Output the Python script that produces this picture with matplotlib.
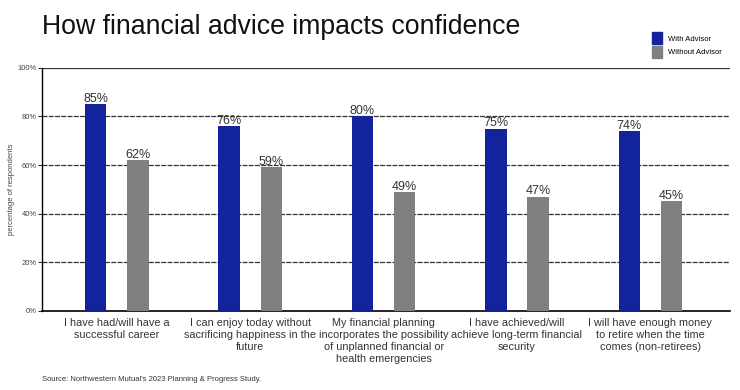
import numpy as np
import matplotlib.pyplot as plt
from matplotlib.patches import Patch

plt.rcParams['font.family'] = ['Liberation Sans', 'DejaVu Sans']

## data
categories = ['I have had/will have a\nsuccessful career',
              'I can enjoy today without\nsacrificing happiness in the\nfuture',
              'My financial planning\nincorporates the possibility\nof unplanned financial or\nhealth emergencies',
              'I have achieved/will\nachieve long-term financial\nsecurity',
              'I will have enough money\nto retire when the time\ncomes (non-retirees)']
with_advisor = [85, 76, 80, 75, 74]
without_advisor = [62, 59, 49, 47, 45]
yticks = [0, 20, 40, 60, 80, 100]

blue = '#13239b'
grey = '#808080'

fig = plt.figure(figsize=(7.4, 3.9), dpi=100)
ax = fig.add_axes([0.057, 0.203, 0.93, 0.623])

x = np.arange(len(categories))
w = 0.16
off = 0.158
b1 = ax.bar(x - off, with_advisor, w, color=blue, zorder=3)
b2 = ax.bar(x + off, without_advisor, w, color=grey, zorder=3)

for rect, v in zip(list(b1) + list(b2), with_advisor + without_advisor):
    ax.text(rect.get_x() + rect.get_width() / 2, v - 0.3, '%d%%' % v,
            ha='center', va='bottom', fontsize=9, color='#333333')

ax.set_xlim(-0.56, 4.6)
ax.set_ylim(0, 100)
ax.set_yticks(yticks)
ax.set_yticklabels(['%d%%' % t for t in yticks], fontsize=5.5, color='#444444')
ax.set_xticks(x)
ax.set_xticklabels(categories, fontsize=7.8, color='#333333', linespacing=1.25)
ax.tick_params(axis='x', length=0, pad=5)
ax.tick_params(axis='y', length=3, width=0.6, pad=1)

## dashed grid
for t in yticks[1:-1]:
    ax.axhline(t, color='#333333', lw=0.9, ls=(0, (4, 1)), zorder=1)
ax.axhline(100, color='#333333', lw=0.9, zorder=1)

ax.spines['right'].set_visible(False)
ax.spines['top'].set_visible(False)
ax.spines['left'].set_linewidth(1.0)
ax.spines['bottom'].set_linewidth(1.2)

ax.set_ylabel('percentage of respondents', fontsize=5.5, color='#444444', labelpad=2)

fig.text(0.057, 0.93, 'How financial advice impacts confidence', fontsize=19.2,
         va='center', ha='left', color='#111111')
fig.text(0.057, 0.022, "Source: Northwestern Mutual's 2023 Planning & Progress Study.",
         fontsize=5.5, color='#333333')

handles = [Patch(color=blue), Patch(color=grey)]
fig.legend(handles, ['With Advisor', 'Without Advisor'], loc='upper left',
           bbox_to_anchor=(0.872, 0.935), frameon=False, fontsize=5.5,
           handlelength=1.3, handleheight=2.0, handletextpad=0.8, labelspacing=0.25)

fig.savefig('out.png', dpi=100)
